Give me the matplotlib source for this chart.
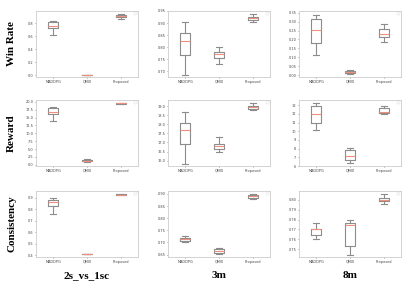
import matplotlib
matplotlib.use("Agg")
import matplotlib.pyplot as plt

methods = ["MADDPG", "QMIX", "Proposed"]
maps = ["2s_vs_1sc", "3m", "8m"]
metrics = ["Win Rate", "Reward", "Consistency"]

# box stats per panel: [whislo, q1, med, q3, whishi] for each method
win_2s = [[0.62, 0.72, 0.76, 0.82, 0.83], [0.0, 0.0, 0.002, 0.004, 0.005], [0.87, 0.895, 0.915, 0.93, 0.945]]
win_3m = [[0.686, 0.767, 0.825, 0.857, 0.904], [0.729, 0.754, 0.772, 0.779, 0.80], [0.904, 0.914, 0.921, 0.926, 0.9375]]
win_8m = [[0.11, 0.18, 0.254, 0.315, 0.34], [0.007, 0.011, 0.0185, 0.024, 0.031], [0.187, 0.215, 0.232, 0.26, 0.287]]
rew_2s = [[13.9, 16.0, 16.9, 18.0, 18.4], [0.85, 1.05, 1.3, 1.5, 1.8], [19.2, 19.3, 19.5, 19.6, 19.8]]
rew_3m = [[15.83, 16.9, 17.69, 18.07, 18.69], [16.46, 16.65, 16.83, 16.93, 17.3], [18.8, 18.87, 18.96, 19.04, 19.19]]
rew_8m = [[10.2, 11.0, 12.0, 12.96, 13.27], [6.4, 6.73, 7.2, 7.8, 8.1], [12.0, 12.1, 12.23, 12.7, 12.96]]
con_2s = [[0.76, 0.825, 0.86, 0.88, 0.90], [0.408, 0.409, 0.41, 0.411, 0.412], [0.924, 0.925, 0.926, 0.927, 0.928]]
con_3m = [[0.70, 0.704, 0.714, 0.72, 0.725], [0.652, 0.658, 0.666, 0.673, 0.678], [0.88, 0.885, 0.892, 0.896, 0.90]]
con_8m = [[0.76, 0.7645, 0.77, 0.7707, 0.7767], [0.7445, 0.7535, 0.7745, 0.777, 0.780], [0.7956, 0.7987, 0.80, 0.802, 0.806]]

panels = [[win_2s, win_3m, win_8m], [rew_2s, rew_3m, rew_8m], [con_2s, con_3m, con_8m]]
ylims = [[(-0.03, 0.987), (0.676, 0.95), (-0.011, 0.36)],
         [(-0.4, 20.6), (15.7, 19.35), (6.0, 13.6)],
         [(0.386, 0.957), (0.64, 0.912), (0.742, 0.809)]]
yticks = [[[0.0, 0.2, 0.4, 0.6, 0.8], [0.70, 0.75, 0.80, 0.85, 0.90, 0.95], [0.0, 0.05, 0.10, 0.15, 0.20, 0.25, 0.30, 0.35]],
          [[0, 2.5, 5, 7.5, 10, 12.5, 15, 17.5, 20], [16.0, 16.5, 17.0, 17.5, 18.0, 18.5, 19.0], [6, 7, 8, 9, 10, 11, 12, 13]],
          [[0.4, 0.5, 0.6, 0.7, 0.8, 0.9], [0.65, 0.70, 0.75, 0.80, 0.85, 0.90], [0.75, 0.76, 0.77, 0.78, 0.79, 0.80]]]
tickfmt = [["%.1f", "%.2f", "%.2f"], ["%.1f", "%.1f", "%d"], ["%.1f", "%.2f", "%.2f"]]

fig = plt.figure(figsize=(4.15, 2.86), dpi=100)
lefts = [36, 168, 299]
tops = [11, 100, 191]
w, h = 102, 66
W, H = 415, 286

gray = "#8c8c8c"
for r in range(3):
    for c in range(3):
        ax = fig.add_axes([lefts[c] / W, 1 - (tops[r] + h) / H, w / W, h / H])
        stats = []
        for m, s in zip(methods, panels[r][c]):
            stats.append({"label": m, "whislo": s[0], "q1": s[1], "med": s[2],
                          "q3": s[3], "whishi": s[4], "fliers": []})
        ax.bxp(stats, widths=0.3, showfliers=False,
               boxprops=dict(color=gray, linewidth=0.8),
               whiskerprops=dict(color=gray, linewidth=0.8),
               capprops=dict(color=gray, linewidth=0.8),
               medianprops=dict(color="#f0907a", linewidth=0.8))
        ax.set_ylim(*ylims[r][c])
        ax.set_yticks(yticks[r][c])
        ax.set_yticklabels([tickfmt[r][c] % t for t in yticks[r][c]])
        ax.tick_params(labelsize=2.5, length=1, width=0.4, pad=1, colors="#444444")
        for sp in ax.spines.values():
            sp.set_color("#cccccc")
            sp.set_linewidth(0.6)
        leg = ax.legend(handles=[], loc="upper right", frameon=True, fontsize=2,
                        borderpad=0.4, handlelength=0)
        leg.get_frame().set_linewidth(0.3)
        if c == 0:
            ax.text(-0.24, 0.5, metrics[r], transform=ax.transAxes, rotation=90,
                    ha="center", va="center", fontsize=8, fontweight="bold",
                    family="Liberation Serif")
        if r == 2:
            ax.text(0.5, -0.28, maps[c], transform=ax.transAxes,
                    ha="center", va="center", fontsize=8, fontweight="bold",
                    family="Liberation Serif")

fig.savefig("out.png", dpi=100)
